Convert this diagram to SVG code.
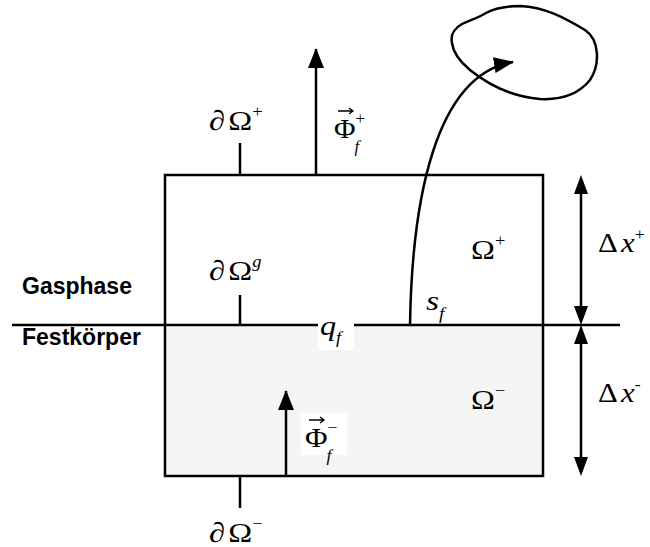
<svg xmlns="http://www.w3.org/2000/svg" width="650" height="547" viewBox="0 0 650 547">
<style>
.ln{stroke:#000;stroke-width:2.5;fill:none}
.m{font-family:"Liberation Serif","Times New Roman",serif;font-size:28px;fill:#000}
.i{font-style:italic}
.s{font-size:16px}
.vec{stroke:#000;stroke-width:1.3;fill:none}
.lab{font-family:"Liberation Sans",Arial,sans-serif;font-size:23px;font-weight:bold;fill:#000}
</style>
<defs>
<marker id="ah" markerWidth="20" markerHeight="16" refX="19" refY="8" orient="auto" markerUnits="userSpaceOnUse" viewBox="0 0 20 16">
<path d="M0,0 L20,8 L0,16 Z" fill="#000"/>
</marker>
</defs>
<rect width="650" height="547" fill="#fff"/>
<g id="box">
<rect x="165" y="325" width="378" height="151" fill="#f5f5f5"/>
<rect x="165" y="175" width="378" height="301" class="ln"/>
</g>
<g id="connectors">
<line x1="12" y1="325" x2="620" y2="325" class="ln" stroke-width="3"/>
<line x1="240" y1="143" x2="240" y2="175" class="ln"/>
<line x1="240" y1="295" x2="240" y2="325" class="ln"/>
<line x1="240" y1="476" x2="240" y2="508" class="ln"/>
<line x1="316" y1="175" x2="316" y2="49" class="ln" marker-end="url(#ah)"/>
<line x1="286" y1="476" x2="286" y2="391" class="ln" marker-end="url(#ah)"/>
<path d="M410,325 C412,200 435,75 513,62" class="ln" marker-end="url(#ah)"/>
<line x1="581" y1="192" x2="581" y2="308" class="ln"/>
<path d="M574,194 L581,175 L588,194 Z M574,306 L581,325 L588,306 Z" fill="#000"/>
<line x1="581" y1="342" x2="581" y2="459" class="ln"/>
<path d="M574,344 L581,325 L588,344 Z M574,457 L581,476 L588,457 Z" fill="#000"/>
</g>
<g id="blob">
<path d="M452,43 C450,33 455,28 462,24 C470,20 478,18 486,13 C495,8 505,6 520,6 C545,7 565,18 585,30 C600,40 600,65 590,80 C578,95 560,100 540,99 C515,97 490,86 470,70 C458,60 453,52 452,43 Z" class="ln"/>
</g>
<g id="labels">
<text class="m" transform="translate(209,130) scale(1.15,1)">∂<tspan dx="3">Ω</tspan><tspan class="s" dy="-13">+</tspan></text>
<text class="m" font-size="27" transform="translate(334,138) scale(1.05,1)">Φ<tspan class="s" dy="-14">+</tspan><tspan class="s i" dx="-10" dy="28">f</tspan></text>
<path d="M338,111 L353,111 M349,108 L353,111 L349,114" class="vec"/>
<text class="m" transform="translate(209,280) scale(1.15,1)">∂<tspan dx="3">Ω</tspan><tspan class="s i" dy="-13">g</tspan></text>
<rect x="318" y="318" width="36" height="32" fill="#fff"/>
<text class="m i" font-size="29" transform="translate(320,335) scale(1.15,1)">q<tspan class="s" dy="8">f</tspan></text>
<text class="m i" font-size="31" transform="translate(426,310) scale(1.2,1)">s<tspan class="s" dy="9">f</tspan></text>
<text class="m" transform="translate(471,259) scale(1.15,1)">Ω<tspan class="s" dy="-13">+</tspan></text>
<text class="m" transform="translate(471,409) scale(1.15,1)">Ω<tspan class="s" dy="-13">−</tspan></text>
<rect x="301" y="413" width="46" height="42" fill="#fff"/>
<text class="m" font-size="27" transform="translate(305,447) scale(1.1,1)">Φ<tspan class="s" dy="-14">−</tspan><tspan class="s i" dx="-10" dy="28">f</tspan></text>
<path d="M309,420 L324,420 M320,417 L324,420 L320,423" class="vec"/>
<text class="m" transform="translate(209,542) scale(1.15,1)">∂<tspan dx="3">Ω</tspan><tspan class="s" dy="-13">−</tspan></text>
<text class="m" font-size="25" transform="translate(598,252) scale(1.1,1)">Δ<tspan class="i" dx="3">x</tspan><tspan class="s" dy="-12">+</tspan></text>
<text class="m" font-size="25" transform="translate(598,402) scale(1.1,1)">Δ<tspan class="i" dx="3">x</tspan><tspan class="s" dy="-12">-</tspan></text>
<text class="lab" x="22" y="294">Gasphase</text>
<text class="lab" x="22" y="345">Festkörper</text>
</g>
</svg>
